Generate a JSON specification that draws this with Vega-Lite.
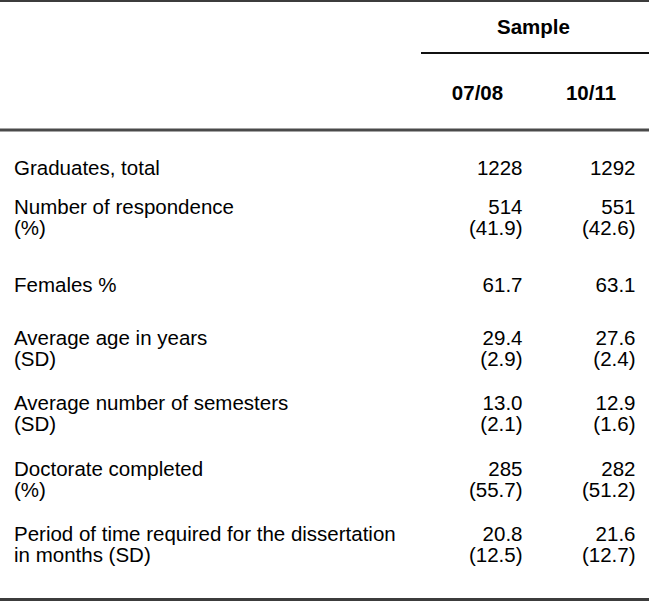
{
  "$schema": "https://vega.github.io/schema/vega-lite/v6.json",
  "width": 649,
  "height": 602,
  "padding": 0,
  "autosize": {"type": "none"},
  "background": "white",
  "config": {
    "view": {"stroke": null},
    "text": {"font": "Liberation Sans", "fontSize": 20.5, "color": "#000000"}
  },
  "datasets": {
    "table": [
      {"measure": "Graduates, total", "07/08": "1228", "10/11": "1292"},
      {"measure": "Number of respondence\n(%)", "07/08": "514\n(41.9)", "10/11": "551\n(42.6)"},
      {"measure": "Females %", "07/08": "61.7", "10/11": "63.1"},
      {"measure": "Average age in years\n(SD)", "07/08": "29.4\n(2.9)", "10/11": "27.6\n(2.4)"},
      {"measure": "Average number of semesters\n(SD)", "07/08": "13.0\n(2.1)", "10/11": "12.9\n(1.6)"},
      {"measure": "Doctorate completed\n(%)", "07/08": "285\n(55.7)", "10/11": "282\n(51.2)"},
      {"measure": "Period of time required for the dissertation\nin months (SD)", "07/08": "20.8\n(12.5)", "10/11": "21.6\n(12.7)"}
    ],
    "samples": [
      {"group": "Sample", "sample": "07/08"},
      {"group": "Sample", "sample": "10/11"}
    ],
    "group": [
      {"group": "Sample", "first": "07/08", "last": "10/11"}
    ]
  },
  "layer": [
    {
      "data": {"values": [{"rule": "top"}]},
      "mark": {"type": "rule", "strokeWidth": 2, "color": "#3c3c3c"},
      "encoding": {
        "y": {"field": "rule", "type": "nominal", "axis": null,
              "scale": {"type": "point", "domain": ["top"], "padding": 0, "align": 0.0017}}
      }
    },
    {
      "data": {"values": [{"rule": "header"}]},
      "mark": {"type": "rule", "strokeWidth": 3, "color": "#4a4a4a"},
      "encoding": {
        "y": {"field": "rule", "type": "nominal", "axis": null,
              "scale": {"type": "point", "domain": ["header"], "padding": 0, "align": 0.2159}}
      }
    },
    {
      "data": {"values": [{"rule": "bottom"}]},
      "mark": {"type": "rule", "strokeWidth": 3, "color": "#3c3c3c"},
      "encoding": {
        "y": {"field": "rule", "type": "nominal", "axis": null,
              "scale": {"type": "point", "domain": ["bottom"], "padding": 0, "align": 0.9959}}
      }
    },
    {
      "data": {"name": "group"},
      "mark": {"type": "rule", "strokeWidth": 2, "color": "#111111"},
      "encoding": {
        "x": {"field": "first", "type": "nominal", "axis": null,
              "scale": {"type": "point", "domain": ["07/08", "10/11"], "padding": 0, "range": [421, 649]}},
        "x2": {"field": "last"},
        "y": {"field": "group", "type": "nominal", "axis": null,
              "scale": {"type": "point", "domain": ["Sample"], "padding": 0, "align": 0.08804}}
      }
    },
    {
      "data": {"name": "group"},
      "mark": {"type": "text", "fontWeight": "bold", "align": "center", "baseline": "alphabetic"},
      "encoding": {
        "text": {"field": "group"},
        "x": {"field": "group", "type": "nominal", "axis": null,
              "scale": {"type": "point", "domain": ["Sample"], "padding": 0, "align": 0.822}},
        "y": {"field": "group", "type": "nominal", "axis": null,
              "scale": {"type": "point", "domain": ["Sample"], "padding": 0, "align": 0.0557}}
      }
    },
    {
      "data": {"name": "samples"},
      "mark": {"type": "text", "fontWeight": "bold", "align": "center", "baseline": "alphabetic"},
      "encoding": {
        "text": {"field": "sample"},
        "x": {"field": "sample", "type": "nominal", "axis": null,
              "scale": {"type": "point", "domain": ["07/08", "10/11"], "padding": 0, "range": [477.5, 591]}},
        "y": {"field": "group", "type": "nominal", "axis": null,
              "scale": {"type": "point", "domain": ["Sample"], "padding": 0, "align": 0.1661}}
      }
    },
    {
      "data": {"name": "table"},
      "transform": [{"filter": "indexof(datum.measure, '\\n') < 0"}],
      "mark": {"type": "text", "align": "left", "baseline": "alphabetic", "lineBreak": "\n", "lineHeight": 21},
      "encoding": {
        "text": {"field": "measure"},
        "x": {"datum": "Measure", "type": "nominal", "axis": null,
              "scale": {"type": "point", "domain": ["Measure"], "padding": 0, "align": 0.02157}},
        "y": {"field": "measure", "type": "nominal", "axis": null,
              "scale": {"type": "point", "padding": 0, "range": [175, 525.1],
                        "domain": ["Graduates, total", "Number of respondence\n(%)", "Females %", "Average age in years\n(SD)", "Average number of semesters\n(SD)", "Doctorate completed\n(%)", "Period of time required for the dissertation\nin months (SD)"]}}
      }
    },
    {
      "data": {"name": "table"},
      "transform": [{"filter": "indexof(datum.measure, '\\n') >= 0"}],
      "mark": {"type": "text", "align": "left", "baseline": "alphabetic", "lineBreak": "\n", "lineHeight": 21},
      "encoding": {
        "text": {"field": "measure"},
        "x": {"datum": "Measure", "type": "nominal", "axis": null,
              "scale": {"type": "point", "domain": ["Measure"], "padding": 0, "align": 0.02157}},
        "y": {"field": "measure", "type": "nominal", "axis": null,
              "scale": {"type": "point", "padding": 0, "range": [148.8, 541.3],
                        "domain": ["Graduates, total", "Number of respondence\n(%)", "Females %", "Average age in years\n(SD)", "Average number of semesters\n(SD)", "Doctorate completed\n(%)", "Period of time required for the dissertation\nin months (SD)"]}}
      }
    },
    {
      "data": {"name": "table"},
      "transform": [
        {"filter": "indexof(datum.measure, '\\n') < 0"},
        {"fold": ["07/08", "10/11"], "as": ["sample", "value"]}
      ],
      "mark": {"type": "text", "align": "right", "baseline": "alphabetic", "lineBreak": "\n", "lineHeight": 21},
      "encoding": {
        "text": {"field": "value"},
        "x": {"field": "sample", "type": "nominal", "axis": null,
              "scale": {"type": "point", "domain": ["07/08", "10/11"], "padding": 0, "range": [522.5, 635.5]}},
        "y": {"field": "measure", "type": "nominal", "axis": null,
              "scale": {"type": "point", "padding": 0, "range": [175, 525.1],
                        "domain": ["Graduates, total", "Number of respondence\n(%)", "Females %", "Average age in years\n(SD)", "Average number of semesters\n(SD)", "Doctorate completed\n(%)", "Period of time required for the dissertation\nin months (SD)"]}}
      }
    },
    {
      "data": {"name": "table"},
      "transform": [
        {"filter": "indexof(datum.measure, '\\n') >= 0"},
        {"fold": ["07/08", "10/11"], "as": ["sample", "value"]}
      ],
      "mark": {"type": "text", "align": "right", "baseline": "alphabetic", "lineBreak": "\n", "lineHeight": 21},
      "encoding": {
        "text": {"field": "value"},
        "x": {"field": "sample", "type": "nominal", "axis": null,
              "scale": {"type": "point", "domain": ["07/08", "10/11"], "padding": 0, "range": [522.5, 635.5]}},
        "y": {"field": "measure", "type": "nominal", "axis": null,
              "scale": {"type": "point", "padding": 0, "range": [148.8, 541.3],
                        "domain": ["Graduates, total", "Number of respondence\n(%)", "Females %", "Average age in years\n(SD)", "Average number of semesters\n(SD)", "Doctorate completed\n(%)", "Period of time required for the dissertation\nin months (SD)"]}}
      }
    }
  ],
  "resolve": {"scale": {"x": "independent", "y": "independent"}}
}
